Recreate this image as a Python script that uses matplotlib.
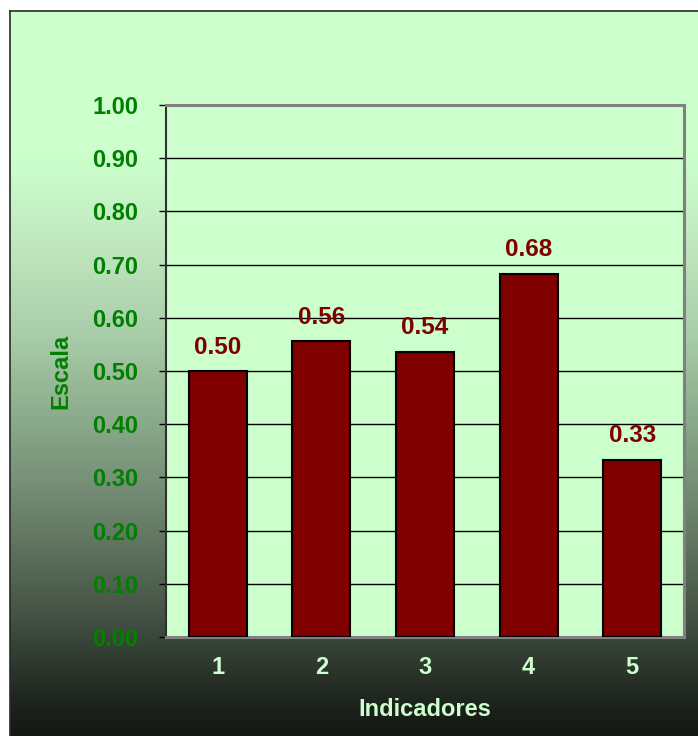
"""Bar chart of indicator scores on a 0-1 scale."""

import matplotlib

matplotlib.use("Agg")
import matplotlib.pyplot as plt
import numpy as np
from matplotlib.colors import LinearSegmentedColormap
from matplotlib.ticker import FormatStrFormatter, MultipleLocator

INDICATORS = ["1", "2", "3", "4", "5"]
SCORES = [0.50, 0.556, 0.536, 0.683, 0.333]

BAR_COLOR = "#800000"
PLOT_BG = "#CCFFCC"
AXIS_GREEN = "#008000"
LIGHT_TEXT = "#CCFFCC"

plt.rcParams["font.family"] = ["Liberation Sans", "DejaVu Sans"]
plt.rcParams["font.weight"] = "bold"

fig = plt.figure(figsize=(6.98, 7.36), dpi=100, facecolor="white")

# chart-area background: pale green fading to near black
bg = fig.add_axes([10 / 698, 0, 1 - 10 / 698, 1 - 11 / 736], zorder=0)
fade = LinearSegmentedColormap.from_list(
    "fade",
    [
        (0.0, "#CCFFCC"),
        (0.20, "#CCFFCC"),
        (0.32, "#C0E8C0"),
        (0.45, "#A8CCA8"),
        (0.57, "#8AA88A"),
        (0.70, "#6A806A"),
        (0.83, "#465446"),
        (0.96, "#1C221C"),
        (1.0, "#151815"),
    ],
)
bg.imshow(
    np.linspace(0, 1, 256).reshape(-1, 1),
    cmap=fade,
    aspect="auto",
    extent=(0, 1, 0, 1),
)
bg.set_xticks([])
bg.set_yticks([])
for side in ("right", "bottom"):
    bg.spines[side].set_visible(False)
for side in ("left", "top"):
    bg.spines[side].set_color("#2a2a2a")
    bg.spines[side].set_linewidth(1.2)

ax = fig.add_axes([166 / 698, 1 - 637 / 736, (684 - 166) / 698, (637 - 105) / 736], zorder=1)
ax.set_facecolor(PLOT_BG)

x = np.arange(len(INDICATORS))
ax.bar(x, SCORES, width=0.56, color=BAR_COLOR, edgecolor="black", linewidth=1.5, zorder=3)
for xi, score in zip(x, SCORES):
    ax.annotate(
        f"{score:.2f}",
        (xi, score),
        xytext=(0, 9),
        textcoords="offset points",
        ha="center",
        va="bottom",
        color=BAR_COLOR,
        fontsize=17.5,
        fontweight="bold",
        zorder=4,
    )

ax.set_xlim(-0.5, len(INDICATORS) - 0.5)
ax.set_ylim(0, 1.0)
ax.yaxis.set_major_locator(MultipleLocator(0.1))
ax.yaxis.set_major_formatter(FormatStrFormatter("%.2f"))
ax.grid(axis="y", color="black", linewidth=1.0, zorder=1)
ax.set_axisbelow(True)

ax.set_xticks(x)
ax.set_xticklabels(INDICATORS)
ax.tick_params(axis="x", length=0, pad=14, labelsize=17, labelcolor=LIGHT_TEXT)
ax.tick_params(axis="y", length=5, width=1, direction="out", pad=15,
               labelsize=17, labelcolor=AXIS_GREEN)
for label in ax.get_xticklabels() + ax.get_yticklabels():
    label.set_fontweight("bold")

ax.spines["left"].set_color("#303030")
ax.spines["left"].set_linewidth(1.5)
for side in ("top", "right", "bottom"):
    ax.spines[side].set_color("#808080")
    ax.spines[side].set_linewidth(2.2)

ax.set_xlabel("Indicadores", color=LIGHT_TEXT, fontsize=17, fontweight="bold", labelpad=13)
ax.set_ylabel("Escala", color=AXIS_GREEN, fontsize=17, fontweight="bold", labelpad=14)

fig.savefig("out.png", dpi=100, facecolor=fig.get_facecolor())
